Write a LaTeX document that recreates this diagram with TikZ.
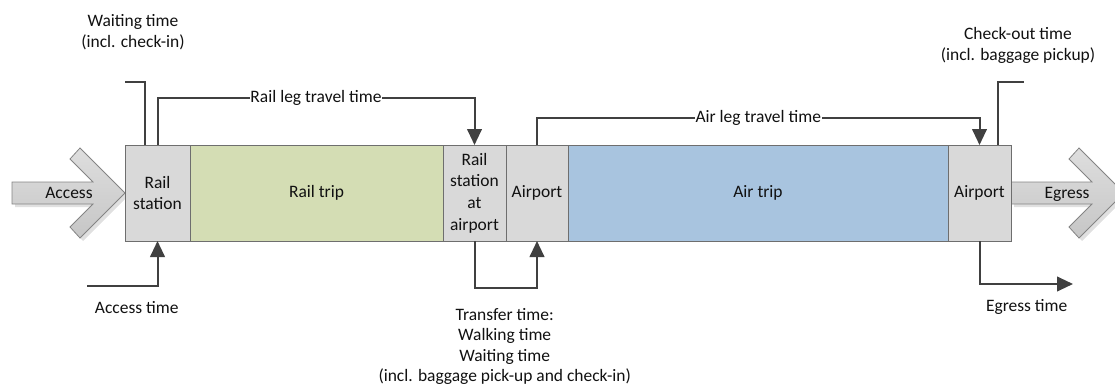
\documentclass[tikz,border=0pt]{standalone}
\usepackage{fontspec}
\setmainfont{Carlito}
\usetikzlibrary{arrows.meta,calc}
\definecolor{boxgray}{HTML}{D9D9D9}
\definecolor{railgreen}{HTML}{D4DDB4}
\definecolor{airblue}{HTML}{A8C4DF}
\definecolor{edgegray}{HTML}{6E6E6E}
\definecolor{linegray}{HTML}{404040}
\definecolor{arrowtop}{HTML}{DEDEDE}
\definecolor{arrowbot}{HTML}{C6C6C6}
\definecolor{textcol}{HTML}{111111}

\begin{document}
\begin{tikzpicture}[x=0.75pt,y=-0.75pt,
  every node/.style={text=textcol, font=\fontsize{13.1}{16.2}\selectfont},
  stage/.style={draw=edgegray, line width=0.75pt, minimum height=72pt,
    inner sep=0pt, outer sep=0pt, align=center},
  conn/.style={draw=linegray, line width=1.5pt},
  tip/.style={-{Triangle[length=12pt,width=11pt]}},
  onlabel/.style={fill=white, inner sep=0.5pt},
  note/.style={align=center, font=\fontsize{13.1}{15.4}\selectfont},
  chevron/.style={draw=edgegray!85, line width=0.6pt, top color=arrowtop, bottom color=arrowbot},
  chevshadow/.style={fill=black, opacity=0.12, draw=none}
]
\useasboundingbox (0,0) rectangle (1115,389);

% access and egress block arrows (with a soft drop shadow)
\path[chevshadow, shift={(3,3)}] (12,182) -- (93,182) -- (70,159) -- (80,148) -- (125,193)
  -- (80,238) -- (70,227) -- (93,204) -- (12,204) -- cycle;
\path[chevron] (12,182) -- (93,182) -- (70,159) -- (80,148) -- (125,193)
  -- (80,238) -- (70,227) -- (93,204) -- (12,204) -- cycle;
\path[chevshadow, shift={(3,3)}] (1011,182) -- (1092,182) -- (1069,159) -- (1079,148) -- (1124,193)
  -- (1079,238) -- (1069,227) -- (1092,204) -- (1011,204) -- cycle;
\path[chevron] (1011,182) -- (1092,182) -- (1069,159) -- (1079,148) -- (1124,193)
  -- (1079,238) -- (1069,227) -- (1092,204) -- (1011,204) -- cycle;
\node[anchor=base] (acc) at (69,198.5) {Access};
\node[anchor=base] (egr) at (1067,198.5) {Egress};

% journey stages
\node[stage, fill=boxgray, minimum width=48.75pt] (rs) at (157.5,193) {Rail\\station};
\node[stage, fill=railgreen, minimum width=189.75pt] (rt) at (316.5,193) {Rail trip};
\node[stage, fill=boxgray, minimum width=47.25pt] (rsa) at (474.5,193) {Rail\\station\\at\\airport};
\node[stage, fill=boxgray, minimum width=46.5pt] (ap1) at (537,193) {Airport};
\node[stage, fill=airblue, minimum width=285pt] (at) at (758,193) {Air trip};
\node[stage, fill=boxgray, minimum width=47.25pt] (ap2) at (979.5,193) {Airport};

% time components
\coordinate (wtEnd) at (125,82);
\draw[conn] (wtEnd) -| ($(rs.north)+(-12.5,0)$);
\draw[conn,tip] (rs.north) -- ++(0,-47) -| node[onlabel,pos=0.25] (railLeg) {Rail leg travel time} (rsa.north);
\draw[conn,tip] (ap1.north) -- ++(0,-27) -| node[onlabel,pos=0.25] (airLeg) {Air leg travel time} (ap2.north);
\coordinate (coEnd) at (1024,82);
\draw[conn] ($(ap2.north)+(18,0)$) |- (coEnd);
\coordinate (atStart) at (87,285.5);
\draw[conn,tip] (atStart) -| (rs.south);
\draw[conn,tip] (rsa.south) -- ++(0,47) -| (ap1.south);
\coordinate (etEnd) at (1073,284);
\draw[conn,tip] (ap2.south) |- (etEnd);

% captions
\node[note] (wtLbl) at (133,32) {Waiting time\\(incl. check-in)};
\node[note] (coLbl) at (1018,45.5) {Check-out time\\(incl. baggage pickup)};
\node[anchor=base] (atLbl) at (136.7,313) {Access time};
\node[anchor=base] (etLbl) at (1026.7,311.7) {Egress time};
\node[note] (trLbl) at (504.7,346.5) {Transfer time:\\Walking time\\Waiting time\\(incl. baggage pick-up and check-in)};
\end{tikzpicture}
\end{document}
